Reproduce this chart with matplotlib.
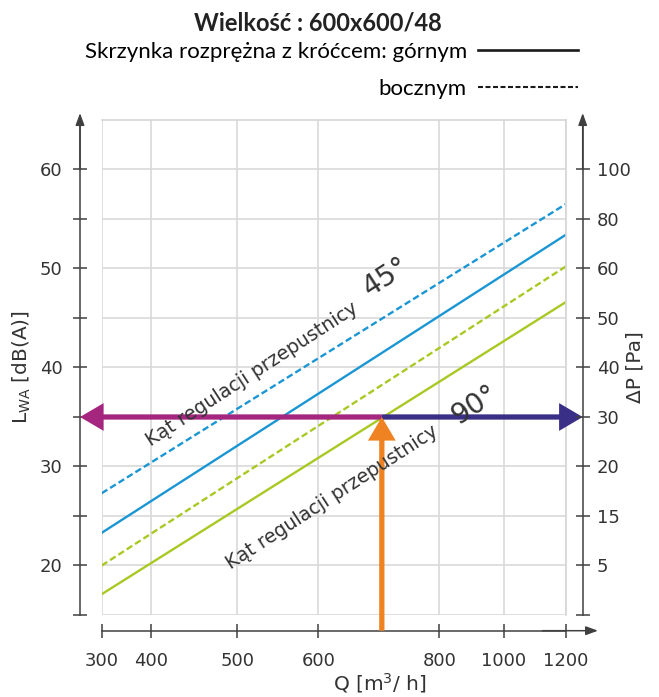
import numpy as np
import matplotlib
matplotlib.use('Agg')
import matplotlib.pyplot as plt
from matplotlib.lines import Line2D
from matplotlib.transforms import offset_copy, blended_transform_factory

# --- data ---
q_ticks = [300, 400, 500, 600, 800, 1000, 1200]
lwa_ticks = [20, 30, 40, 50, 60]
lwa_minor = [15, 25, 35, 45, 55]
dp_labels = ['5', '15', '20', '30', '40', '50', '60', '80', '100']

q_ends = [300, 1200]
lwa_gorny_90 = [17.1, 46.6]
lwa_boczny_90 = [20.0, 50.2]
lwa_gorny_45 = [23.3, 53.4]
lwa_boczny_45 = [27.3, 56.5]

q_op = 705     # operating point
lwa_op = 35

# the Q axis is drawn with uneven spacing between its ticks
q_pos = [0, 0.1056, 0.2922, 0.4668, 0.7276, 0.8670, 1.0]


def stretch(v, xp, fp):
    v = np.asarray(v, dtype=float)
    out = np.interp(v, xp, fp)
    lo = (fp[1] - fp[0]) / (xp[1] - xp[0])
    hi = (fp[-1] - fp[-2]) / (xp[-1] - xp[-2])
    out = np.where(v < xp[0], fp[0] + (v - xp[0]) * lo, out)
    out = np.where(v > xp[-1], fp[-1] + (v - xp[-1]) * hi, out)
    return out


blue = '#1b96d4'
green = '#a8c923'
magenta = '#a5267f'
navy = '#3a2f86'
orange = '#f08321'
dark = '#404040'
txt = '#333333'

plt.rcParams['font.family'] = 'DejaVu Sans'

fig = plt.figure(figsize=(6.59, 6.97), dpi=100)
ax = fig.add_axes([0.15433, 0.11765, 0.70410, 0.71019])
ax.set_xscale('function', functions=(lambda v: stretch(v, q_ticks, q_pos),
                                     lambda p: stretch(p, q_pos, q_ticks)))
ax.set_xlim(300, 1200)
ax.set_ylim(15, 65)

ax.set_xticks(q_ticks, labels=[str(q) for q in q_ticks])
ax.set_xticks([], minor=True)
ax.set_yticks(lwa_ticks, labels=[str(v) for v in lwa_ticks])
ax.set_yticks(lwa_minor, minor=True)

ax.set_axisbelow(True)
ax.grid(True, which='major', color='#d9d9d9', lw=1.2)
ax.yaxis.grid(True, which='minor', color='#d9d9d9', lw=1.2)

for s in ['top', 'right']:
    ax.spines[s].set_color('#d6d6d6')
    ax.spines[s].set_linewidth(1.2)
ax.spines['left'].set_position(('outward', 15.6))
ax.spines['bottom'].set_position(('outward', 11.3))
for s in ['left', 'bottom']:
    ax.spines[s].set_color(dark)
    ax.spines[s].set_linewidth(1.1)

ax.tick_params(axis='both', which='both', direction='inout', length=9.4,
               width=1.1, color=dark, labelsize=13, labelcolor=txt)
ax.tick_params(axis='y', pad=8)
ax.tick_params(axis='x', pad=11)

# lines
ax.plot(q_ends, lwa_boczny_45, color=blue, lw=1.7, ls=(0, (2.8, 1.4)))
ax.plot(q_ends, lwa_gorny_45, color=blue, lw=1.7)
ax.plot(q_ends, lwa_boczny_90, color=green, lw=1.7, ls=(0, (2.8, 1.4)))
ax.plot(q_ends, lwa_gorny_90, color=green, lw=1.7)

# right axis
ax2 = ax.twinx()
ax2.set_ylim(15, 65)
ax2.set_yticks(np.arange(20, 61, 5), labels=dp_labels)
ax2.set_yticks([15], minor=True)
for s in ['top', 'left', 'bottom']:
    ax2.spines[s].set_visible(False)
ax2.spines['right'].set_position(('outward', 12.2))
ax2.spines['right'].set_color(dark)
ax2.spines['right'].set_linewidth(1.1)
ax2.tick_params(axis='y', which='both', direction='inout', length=9.4,
                width=1.1, color=dark, labelsize=13, labelcolor=txt, pad=5.6)

# axis arrow heads
tl = offset_copy(ax.transAxes, fig=fig, x=-21.7, units='dots')
tb = offset_copy(ax.transAxes, fig=fig, y=-15.7, units='dots')
tr = offset_copy(ax.transAxes, fig=fig, x=17, units='dots')
head = dict(arrowstyle='-|>,head_length=0.6,head_width=0.22', mutation_scale=12,
            color=dark, lw=1.1, shrinkA=0, shrinkB=0)
ax.annotate('', xy=(0, 1.014), xytext=(0, 0.9), xycoords=tl, textcoords=tl,
            arrowprops=head, annotation_clip=False)
ax.annotate('', xy=(1, 1.014), xytext=(1, 0.9), xycoords=tr, textcoords=tr,
            arrowprops=head, annotation_clip=False)
ax.annotate('', xy=(1.0696, 0), xytext=(0.95, 0), xycoords=tb, textcoords=tb,
            arrowprops=head, annotation_clip=False)

# reading arrows
big = 'simple,head_length=17,head_width=20,tail_width=3.8'
ax.annotate('', xy=(0, lwa_op), xytext=(q_op, lwa_op),
            xycoords=blended_transform_factory(tl, ax.transData), textcoords='data',
            arrowprops=dict(arrowstyle=big, mutation_scale=1, color=magenta, lw=0,
                            shrinkA=0, shrinkB=0), annotation_clip=False)
ax.annotate('', xy=(1, lwa_op), xytext=(q_op, lwa_op),
            xycoords=blended_transform_factory(tr, ax.transData), textcoords='data',
            arrowprops=dict(arrowstyle=big, mutation_scale=1, color=navy, lw=0,
                            shrinkA=0, shrinkB=0), annotation_clip=False)
ax.annotate('', xy=(q_op, lwa_op), xytext=(q_op, 0),
            textcoords=blended_transform_factory(ax.transData, tb), xycoords='data',
            arrowprops=dict(arrowstyle=big, mutation_scale=1, color=orange, lw=0,
                            shrinkA=0, shrinkB=0), annotation_clip=False)

# angle notes
ax.text(400, 32.0, 'Kąt regulacji przepustnicy', rotation=33, rotation_mode='anchor',
        ha='left', va='baseline', fontsize=13.8, color=txt)
ax.text(685, 47.1, '45°', rotation=33, rotation_mode='anchor',
        ha='left', va='baseline', fontsize=20, color=txt)
ax.text(492, 19.6, 'Kąt regulacji przepustnicy', rotation=33, rotation_mode='anchor',
        ha='left', va='baseline', fontsize=13.8, color=txt)
ax.text(860, 34.2, '90°', rotation=33, rotation_mode='anchor',
        ha='left', va='baseline', fontsize=20, color=txt)

# axis labels
ax.set_ylabel(r'L$_{\mathregular{WA}}$ [dB(A)]', fontsize=14.5, color=txt, va='center')
ax.yaxis.set_label_coords(-0.1718, 0.5)
ax2.set_ylabel('ΔP [Pa]', fontsize=14.5, color=txt, va='center', rotation=90)
ax2.yaxis.set_label_coords(1.149, 0.5)
ax.set_xlabel(r'Q [m$^{3}$/ h]', fontsize=14.5, color=txt, va='center')
ax.xaxis.set_label_coords(0.60, -0.137)

# title and legend
fig.text(318 / 659, 1 - 23 / 697, 'Wielkość : 600x600/48', ha='center', va='center',
         fontsize=17, fontweight='bold', family='Lato', color='#222222')
handles = [Line2D([], [], color='#1a1a1a', lw=1.9),
           Line2D([], [], color='#1a1a1a', lw=1.5, ls=(0, (2.4, 1.2)))]
fig.legend(handles, ['Skrzynka rozprężna z króćcem: górnym', 'bocznym'],
           loc='upper right', bbox_to_anchor=(578 / 659, 1 - 42 / 697),
           markerfirst=False, frameon=False, handlelength=4.5, handletextpad=0.5,
           borderpad=0, borderaxespad=0, labelspacing=0.75,
           prop={'family': 'Lato', 'size': 16})

fig.savefig('out.png', dpi=100)
